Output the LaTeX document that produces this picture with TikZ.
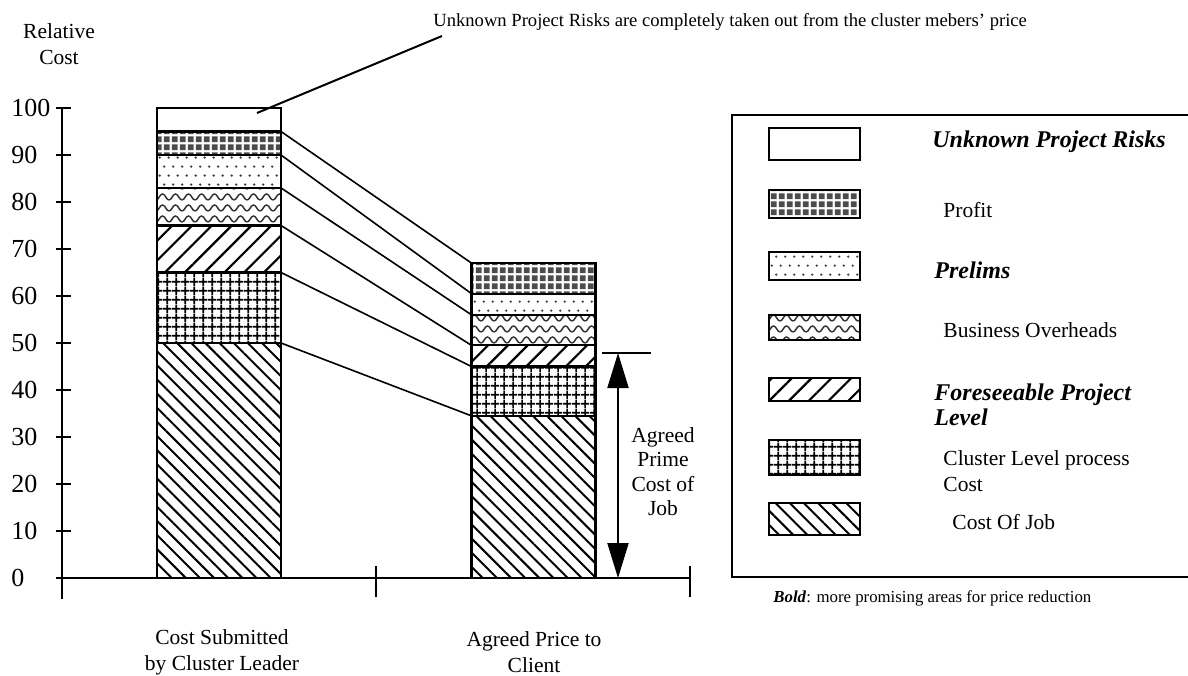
\documentclass[tikz,border=0pt]{standalone}
\usepackage{fontspec}
\setmainfont{Liberation Serif}
\usetikzlibrary{patterns,patterns.meta,arrows.meta}

% hand-made fills
\pgfdeclarepatternformonly{sparsedots}{\pgfqpoint{-1pt}{-1pt}}{\pgfqpoint{5.5pt}{10pt}}{\pgfqpoint{4.5pt}{9pt}}{
  \pgfpathcircle{\pgfqpoint{1.1pt}{2.2pt}}{0.65pt}
  \pgfpathcircle{\pgfqpoint{3.35pt}{6.7pt}}{0.65pt}
  \pgfusepath{fill}
}
\pgfdeclarepatternformonly{tiles}{\pgfqpoint{0pt}{0pt}}{\pgfqpoint{4.1pt}{4.1pt}}{\pgfqpoint{4.1pt}{4.1pt}}{
  \pgfpathrectangle{\pgfqpoint{0.5pt}{0.5pt}}{\pgfqpoint{3.1pt}{3.1pt}}
  \pgfusepath{fill}
}
\pgfdeclarepatternformonly{cellgrid}{\pgfqpoint{0pt}{0pt}}{\pgfqpoint{4.3pt}{4.3pt}}{\pgfqpoint{4.3pt}{4.3pt}}{
  \pgfsetlinewidth{0.9pt}
  \pgfpathmoveto{\pgfqpoint{2.15pt}{0pt}}\pgfpathlineto{\pgfqpoint{2.15pt}{4.3pt}}
  \pgfpathmoveto{\pgfqpoint{0pt}{2.15pt}}\pgfpathlineto{\pgfqpoint{4.3pt}{2.15pt}}
  \pgfusepath{stroke}
}
\pgfdeclarepatternformonly{waves}{\pgfqpoint{-0.5pt}{-0.5pt}}{\pgfqpoint{7pt}{6pt}}{\pgfqpoint{6.5pt}{5.5pt}}{
  \pgfsetlinewidth{0.75pt}
  \pgfpathmoveto{\pgfqpoint{0pt}{1pt}}
  \pgfpathcurveto{\pgfqpoint{1.4pt}{1pt}}{\pgfqpoint{1.8pt}{4pt}}{\pgfqpoint{3.25pt}{4pt}}
  \pgfpathcurveto{\pgfqpoint{4.7pt}{4pt}}{\pgfqpoint{5.1pt}{1pt}}{\pgfqpoint{6.5pt}{1pt}}
  \pgfusepath{stroke}
}

\tikzset{
  jobfill/.style={pattern={Lines[angle=-45,distance=5pt,line width=1pt]}},
  clusterfill/.style={pattern=cellgrid},
  projfill/.style={pattern={Lines[angle=45,distance=7pt,line width=1.1pt]}},
  overfill/.style={pattern=waves, pattern color=black!80},
  prelimfill/.style={pattern=sparsedots, pattern color=black!75},
  profitfill/.style={pattern=tiles, pattern color=black!70},
  riskfill/.style={fill=white},
}

\begin{document}
\begin{tikzpicture}[x=0.5pt, y=-0.5pt,
    seg/.style={draw, line width=1.1pt, minimum width=62pt, outer sep=0pt, inner sep=0pt},
    legbox/.style={draw, line width=1.1pt, minimum width=45.5pt, outer sep=0pt, inner sep=0pt},
    link/.style={line width=0.8pt},
    axis/.style={line width=1pt},
    lab/.style={font=\fontsize{10.75}{13}\selectfont, inner sep=0pt},
    keylab/.style={font=\fontsize{12}{12.5}\selectfont\bfseries\itshape, inner sep=0pt},
    ticklab/.style={font=\fontsize{13}{15}\selectfont, inner sep=0pt, anchor=west},
  ]

    \useasboundingbox (0,0) rectangle (1188,675);

    % chart, values upwards from the zero line
    \begin{scope}[shift={(0,578)}, y=2.35pt]
      \foreach \lo/\hi/\f/\n in {0/50/jobfill/Job, 50/65/clusterfill/Clu, 65/75/projfill/For,
          75/83/overfill/Bus, 83/90/prelimfill/Pre, 90/95/profitfill/Pro, 95/100/riskfill/Unk}{
        \pgfmathsetmacro\h{(\hi-\lo)*2.35}
        \node[seg, \f, minimum height=\h pt, anchor=south] (l\n) at (219,\lo) {};
      }
      \foreach \lo/\hi/\f/\n in {0/34.5/jobfill/Job, 34.5/45/clusterfill/Clu, 45/49.5/projfill/For,
          49.5/56/overfill/Bus, 56/60.5/prelimfill/Pre, 60.5/67/profitfill/Pro}{
        \pgfmathsetmacro\h{(\hi-\lo)*2.35}
        \node[seg, \f, minimum height=\h pt, anchor=south] (r\n) at (533.5,\lo) {};
      }

      \foreach \n in {Job, Clu, For, Bus, Pre, Pro}
        \draw[link] (l\n.north east) -- (r\n.north west);

      % axes
      \draw[axis] (62,100) -- (62,-4.5);
      \draw[axis] (56,0) -- (690,0);
      \foreach \x in {376, 690}
        \draw[axis] (\x,2.5) -- (\x,-4);
      \foreach \v in {10,20,...,100}
        \draw[axis] (56,\v) -- (71,\v);
      \foreach \v in {0,10,...,100}
        \node[ticklab] (t\v) at (11,\v) {\v};
    \end{scope}

    \node[lab, align=center] (yname) at (59,44.5) {Relative\\Cost};
    \node[lab, align=center] (catA) at (222,652) {Cost Submitted\\by Cluster Leader};
    \node[lab, align=center] (catB) at (534,652) {Agreed Price to\\Client};

    % note on the unknown risks
    \node[font=\fontsize{9.3}{11}\selectfont, inner sep=0pt, anchor=west] (note) at (433,22)
      {Unknown Project Risks are completely taken out from the cluster mebers’ price};
    \coordinate (riskpt) at (257,113);
    \coordinate (notept) at (442,36);
    \draw[link, line width=1pt] (riskpt) -- (notept);

    % agreed prime cost span
    \coordinate (spantop) at (618,353);
    \coordinate (spanbot) at (618,578);
    \draw[axis] (602,353) -- (651,353);
    \draw[axis, {Triangle[length=17.5pt,width=10.5pt]}-{Triangle[length=17.5pt,width=10.5pt]}]
      (spantop) -- (spanbot);
    \node[lab, align=center, font=\fontsize{10.75}{12.25}\selectfont] (span) at (663,471.5)
      {Agreed\\Prime\\Cost of\\Job};

    % legend
    \draw[axis] (1190,115) -- (732,115) -- (732,577) -- (1190,577);
    \foreach \y/\hgt/\f/\n in {144/16/riskfill/Unk, 204/14/profitfill/Pro, 266/14/prelimfill/Pre,
        327.5/12.5/overfill/Bus, 389.5/11.5/projfill/For, 457.5/17.5/clusterfill/Clu, 519/16/jobfill/Job}
      \node[legbox, \f, minimum height=\hgt pt] (k\n) at (814.5,\y) {};

    \node[keylab, anchor=west] (kUnkText) at (932,142) {Unknown Project Risks};
    \node[lab, anchor=west] (kProText) at (943,210) {Profit};
    \node[keylab, anchor=west] (kPreText) at (934,270) {Prelims};
    \node[lab, anchor=west] (kBusText) at (943,330) {Business Overheads};
    \node[keylab, anchor=west, align=left] (kForText) at (934,404.5) {Foreseeable Project\\Level};
    \node[lab, anchor=west, align=left] (kCluText) at (943,471.5) {Cluster Level process\\Cost};
    \node[lab, anchor=west] (kJobText) at (952,522) {Cost Of Job};

    \node[font=\fontsize{8.4}{10}\selectfont, inner sep=0pt, anchor=west] (boldnote) at (773,598)
      {\textbf{\textit{Bold}}: more promising areas for price reduction};

\end{tikzpicture}
\end{document}
